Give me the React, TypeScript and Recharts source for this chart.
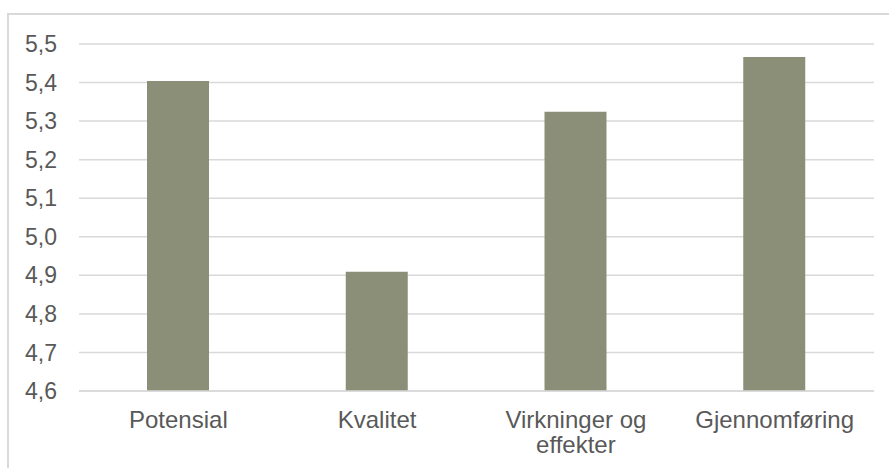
import { Bar, BarChart, CartesianGrid, XAxis, YAxis } from "recharts";

const categories = ["Potensial", "Kvalitet", "Virkninger og effekter", "Gjennomføring"];
// how the category names wrap under the axis
const categoryLines = [["Potensial"], ["Kvalitet"], ["Virkninger og", "effekter"], ["Gjennomføring"]];
const scores = [5.404, 4.909, 5.324, 5.466];
const yTicks = [4.6, 4.7, 4.8, 4.9, 5.0, 5.1, 5.2, 5.3, 5.4, 5.5];

const data = categories.map((name, i) => ({ name, score: scores[i] }));

const FONT = '"Liberation Sans", Arial, sans-serif';
const TEXT = "#595959";
const GRID = "#d9d9d9";

function CategoryTick(props: any) {
  const { x, y, payload } = props;
  const lines = categoryLines[payload.index] ?? [payload.value];
  return (
    <text x={x} y={y + 37} textAnchor="middle" fontSize={24} fontFamily={FONT} fill={TEXT}>
      {lines.map((l, i) => (
        <tspan key={i} x={x} dy={i === 0 ? 0 : 25}>
          {l}
        </tspan>
      ))}
    </text>
  );
}

export default function App() {
  return (
    <div style={{ position: "absolute", left: 0, top: 0, width: 889, height: 468, background: "#fff", overflow: "hidden" }}>
      <div
        style={{
          position: "absolute",
          left: 7,
          top: 13,
          width: 900,
          height: 470,
          borderLeft: `2px solid ${GRID}`,
          borderTop: `2px solid ${GRID}`,
        }}
      />
      <BarChart
        width={889}
        height={468}
        data={data}
        margin={{ top: 44, right: 15, bottom: 0, left: 0 }}
        style={{ position: "absolute", left: 0, top: 0 }}
      >
        <CartesianGrid vertical={false} stroke={GRID} strokeWidth={1.5} />
        <XAxis
          dataKey="name"
          height={77}
          axisLine={{ stroke: GRID, strokeWidth: 1.5 }}
          tickLine={false}
          tickSize={0}
          tickMargin={0}
          interval={0}
          tick={<CategoryTick />}
        />
        <YAxis
          width={79}
          domain={[4.6, 5.5]}
          ticks={yTicks}
          axisLine={false}
          tickLine={false}
          tickSize={0}
          tickMargin={22}
          tickFormatter={(v: number) => v.toFixed(1).replace(".", ",")}
          tick={{ fontSize: 23, fontFamily: FONT, fill: TEXT }}
        />
        <Bar dataKey="score" fill="#8b8f77" barSize={62} isAnimationActive={false} />
      </BarChart>
    </div>
  );
}
